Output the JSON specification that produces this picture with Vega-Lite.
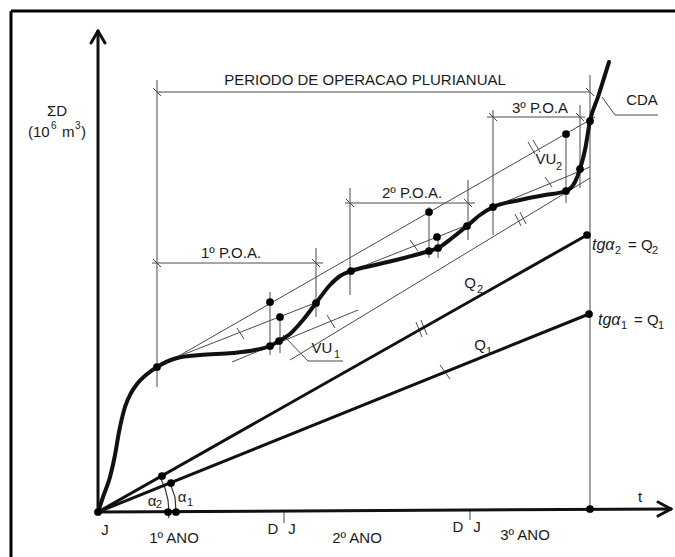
{
 "$schema": "https://vega.github.io/schema/vega-lite/v6.json",
 "width": 675, "height": 557, "autosize": "none", "padding": 0,
 "background": "white",
 "config": {"view": {"stroke": null}},
 "datasets": {
  "frame": [
   {"x": -87, "y": 501, "x2": 577, "y2": 501},
   {"x": -87, "y": 501, "x2": -87, "y2": -45}
  ],
  "thin": [
   {"x": 59, "y": 420, "x2": 492, "y2": 420},
   {"x": 59, "y": 432, "x2": 59, "y2": 125},
   {"x": 492, "y": 437, "x2": 492, "y2": 3},
   {"x": 54, "y": 249, "x2": 225, "y2": 249},
   {"x": 218, "y": 264, "x2": 218, "y2": 195},
   {"x": 247, "y": 309, "x2": 377, "y2": 309},
   {"x": 252, "y": 324, "x2": 252, "y2": 217},
   {"x": 370, "y": 332, "x2": 370, "y2": 272},
   {"x": 389, "y": 395, "x2": 487, "y2": 395},
   {"x": 395, "y": 402, "x2": 395, "y2": 277},
   {"x": 482, "y": 407, "x2": 482, "y2": 324},
   {"x": 55, "y": 424, "x2": 63, "y2": 416},
   {"x": 488, "y": 424, "x2": 496, "y2": 416},
   {"x": 55, "y": 253, "x2": 63, "y2": 245},
   {"x": 214, "y": 253, "x2": 222, "y2": 245},
   {"x": 248, "y": 313, "x2": 256, "y2": 305},
   {"x": 366, "y": 313, "x2": 374, "y2": 305},
   {"x": 391, "y": 399, "x2": 399, "y2": 391},
   {"x": 478, "y": 399, "x2": 486, "y2": 391},
   {"x": 79, "y": 155, "x2": 497, "y2": 395},
   {"x": 79, "y": 155, "x2": 222, "y2": 211},
   {"x": 134, "y": 150, "x2": 260, "y2": 202},
   {"x": 192, "y": 152, "x2": 492, "y2": 334},
   {"x": 253, "y": 241, "x2": 372, "y2": 288},
   {"x": 395, "y": 305, "x2": 492, "y2": 345},
   {"x": 172, "y": 220, "x2": 172, "y2": 157},
   {"x": 182, "y": 199, "x2": 182, "y2": 159},
   {"x": 331, "y": 305, "x2": 331, "y2": 254},
   {"x": 340, "y": 279, "x2": 340, "y2": 254},
   {"x": 468, "y": 380, "x2": 468, "y2": 309},
   {"x": 185, "y": 177, "x2": 210, "y2": 151},
   {"x": 210, "y": 151, "x2": 245, "y2": 151},
   {"x": 504, "y": 415, "x2": 517, "y2": 397},
   {"x": 517, "y": 397, "x2": 560, "y2": 397},
   {"x": 342, "y": 147, "x2": 352, "y2": 133},
   {"x": 139, "y": 184, "x2": 146, "y2": 173},
   {"x": 229, "y": 197, "x2": 237, "y2": 184},
   {"x": 312, "y": 272, "x2": 320, "y2": 261},
   {"x": 447, "y": 335, "x2": 454, "y2": 325},
   {"x": 318, "y": 190, "x2": 324, "y2": 175},
   {"x": 323, "y": 192, "x2": 329, "y2": 177},
   {"x": 430, "y": 370, "x2": 437, "y2": 358},
   {"x": 435, "y": 372, "x2": 442, "y2": 360},
   {"x": 417, "y": 298, "x2": 423, "y2": 286},
   {"x": 422, "y": 300, "x2": 428, "y2": 288},
   {"x": 186, "y": 0, "x2": 186, "y2": -11},
   {"x": 372, "y": 3, "x2": 372, "y2": -8}
  ],
  "thick": [
   {"x": 0, "y": 0, "x2": 0, "y2": 481},
   {"x": -7, "y": 469, "x2": 0, "y2": 481},
   {"x": 7, "y": 469, "x2": 0, "y2": 481},
   {"x": 0, "y": 0, "x2": 573, "y2": 3},
   {"x": 560, "y": 10, "x2": 573, "y2": 3},
   {"x": 560, "y": -4, "x2": 573, "y2": 3},
   {"x": 0, "y": 0, "x2": 489, "y2": 277},
   {"x": 0, "y": 0, "x2": 491, "y2": 198}
  ],
  "arcs": [
   {"arc": "a2", "k": 1, "x": 70.7, "y": -6},
   {"arc": "a2", "k": 2, "x": 71, "y": 0},
   {"arc": "a2", "k": 3, "x": 70, "y": 12},
   {"arc": "a2", "k": 4, "x": 67, "y": 24},
   {"arc": "a2", "k": 5, "x": 62, "y": 35},
   {"arc": "a1", "k": 1, "x": 78, "y": 0},
   {"arc": "a1", "k": 2, "x": 77, "y": 15},
   {"arc": "a1", "k": 3, "x": 72, "y": 29}
  ],
  "cda": [
   {"x": 0, "y": 0}, {"x": 5, "y": 15}, {"x": 12, "y": 35}, {"x": 17, "y": 57},
   {"x": 21, "y": 80}, {"x": 27, "y": 105}, {"x": 33, "y": 119}, {"x": 39, "y": 128},
   {"x": 48, "y": 137}, {"x": 59, "y": 145}, {"x": 79, "y": 154}, {"x": 102, "y": 157},
   {"x": 135, "y": 159}, {"x": 157, "y": 162}, {"x": 172, "y": 166}, {"x": 181, "y": 171},
   {"x": 192, "y": 178}, {"x": 205, "y": 192}, {"x": 218, "y": 209}, {"x": 232, "y": 227},
   {"x": 242, "y": 236}, {"x": 253, "y": 241}, {"x": 277, "y": 247}, {"x": 302, "y": 253},
   {"x": 331, "y": 261}, {"x": 340, "y": 264}, {"x": 354, "y": 274}, {"x": 369, "y": 286},
   {"x": 382, "y": 297}, {"x": 395, "y": 305}, {"x": 422, "y": 312}, {"x": 447, "y": 317},
   {"x": 468, "y": 321}, {"x": 477, "y": 330}, {"x": 482, "y": 343}, {"x": 487, "y": 362},
   {"x": 492, "y": 391}, {"x": 500, "y": 415}, {"x": 511, "y": 450}
  ],
  "dots": [
   {"x": 0, "y": 0}, {"x": 59, "y": 145}, {"x": 172, "y": 210}, {"x": 182, "y": 195},
   {"x": 172, "y": 166}, {"x": 181, "y": 171}, {"x": 218, "y": 209}, {"x": 253, "y": 241},
   {"x": 331, "y": 300}, {"x": 339, "y": 275}, {"x": 331, "y": 261}, {"x": 340, "y": 264},
   {"x": 369, "y": 286}, {"x": 395, "y": 305}, {"x": 468, "y": 378}, {"x": 482, "y": 343},
   {"x": 468, "y": 321}, {"x": 492, "y": 391}, {"x": 489, "y": 277}, {"x": 491, "y": 198},
   {"x": 492, "y": 3}, {"x": 64, "y": 36}, {"x": 73, "y": 29}, {"x": 70, "y": 0}, {"x": 78, "y": 0}
  ],
  "labels": [
   {"x": 267, "y": 432, "text": "PERIODO DE OPERACAO PLURIANUAL"},
   {"x": -41, "y": 401, "text": "ΣD"},
   {"x": 133, "y": 259, "text": "1º P.O.A."},
   {"x": 314, "y": 319, "text": "2º P.O.A."},
   {"x": 442, "y": 404, "text": "3º P.O.A"},
   {"x": 544, "y": 412, "text": "CDA"},
   {"x": 224, "y": 164, "text": "VU"},
   {"x": 448, "y": 353, "text": "VU"},
   {"x": 372, "y": 229, "text": "Q"},
   {"x": 382, "y": 167, "text": "Q"},
   {"x": 54, "y": 11, "text": "α"},
   {"x": 84, "y": 15, "text": "α"},
   {"x": 7, "y": -18, "text": "J"},
   {"x": 76, "y": -26, "text": "1º ANO"},
   {"x": 175, "y": -17, "text": "D"},
   {"x": 194, "y": -17, "text": "J"},
   {"x": 259, "y": -26, "text": "2º ANO"},
   {"x": 360, "y": -15, "text": "D"},
   {"x": 379, "y": -15, "text": "J"},
   {"x": 427, "y": -23, "text": "3º ANO"},
   {"x": 542, "y": 15, "text": "t"}
  ],
  "unit": [
   {"x": -70, "y": 380, "text": "(10"},
   {"x": -36, "y": 380, "text": "m"},
   {"x": -17, "y": 380, "text": ")"}
  ],
  "sups": [
   {"x": -47, "y": 386, "text": "6"},
   {"x": -23, "y": 386, "text": "3"}
  ],
  "subs": [
   {"x": 239, "y": 157, "text": "1"},
   {"x": 461, "y": 345, "text": "2"},
   {"x": 382, "y": 222, "text": "2"},
   {"x": 391, "y": 160, "text": "1"},
   {"x": 61, "y": 7, "text": "2"},
   {"x": 92, "y": 9, "text": "1"},
   {"x": 520, "y": 261, "text": "2"},
   {"x": 557, "y": 261, "text": "2"},
   {"x": 526, "y": 186, "text": "1"},
   {"x": 563, "y": 186, "text": "1"}
  ],
  "tg": [
   {"x": 494, "y": 267, "text": "tgα"},
   {"x": 500, "y": 192, "text": "tgα"}
  ],
  "eq": [
   {"x": 530, "y": 267, "text": "= Q"},
   {"x": 536, "y": 192, "text": "= Q"}
  ]
 },
 "encoding": {
  "x": {"field": "x", "type": "quantitative", "scale": {"domain": [-98, 577], "nice": false, "zero": false}, "axis": null},
  "y": {"field": "y", "type": "quantitative", "scale": {"domain": [-45, 512], "nice": false, "zero": false}, "axis": null}
 },
 "layer": [
  {"data": {"name": "frame"}, "mark": {"type": "rule", "strokeWidth": 3, "color": "#000"},
   "encoding": {"x2": {"field": "x2"}, "y2": {"field": "y2"}}},
  {"data": {"name": "thin"}, "mark": {"type": "rule", "strokeWidth": 1, "color": "#4a4a4a"},
   "encoding": {"x2": {"field": "x2"}, "y2": {"field": "y2"}}},
  {"data": {"name": "arcs"}, "mark": {"type": "line", "strokeWidth": 1.2, "color": "#333", "interpolate": "linear"},
   "encoding": {"detail": {"field": "arc"}, "order": {"field": "k"}}},
  {"data": {"name": "thick"}, "mark": {"type": "rule", "strokeWidth": 3, "color": "#111", "strokeCap": "round"},
   "encoding": {"x2": {"field": "x2"}, "y2": {"field": "y2"}}},
  {"data": {"name": "cda"}, "mark": {"type": "line", "strokeWidth": 4, "color": "#111", "interpolate": "monotone", "strokeCap": "round"},
   "encoding": {}},
  {"data": {"name": "dots"}, "mark": {"type": "point", "filled": true, "size": 60, "color": "#000", "opacity": 1}},
  {"data": {"name": "labels"}, "mark": {"type": "text", "font": "Liberation Sans", "fontSize": 15, "color": "#1a1a1a", "align": "center", "baseline": "middle"},
   "encoding": {"text": {"field": "text"}}},
  {"data": {"name": "unit"}, "mark": {"type": "text", "font": "Liberation Sans", "fontSize": 15, "color": "#1a1a1a", "align": "left", "baseline": "middle"},
   "encoding": {"text": {"field": "text"}}},
  {"data": {"name": "sups"}, "mark": {"type": "text", "font": "Liberation Sans", "fontSize": 10, "color": "#1a1a1a", "align": "left", "baseline": "middle"},
   "encoding": {"text": {"field": "text"}}},
  {"data": {"name": "subs"}, "mark": {"type": "text", "font": "Liberation Sans", "fontSize": 11, "color": "#1a1a1a", "align": "center", "baseline": "middle"},
   "encoding": {"text": {"field": "text"}}},
  {"data": {"name": "tg"}, "mark": {"type": "text", "font": "Liberation Sans", "fontSize": 16, "fontStyle": "italic", "color": "#1a1a1a", "align": "left", "baseline": "middle"},
   "encoding": {"text": {"field": "text"}}},
  {"data": {"name": "eq"}, "mark": {"type": "text", "font": "Liberation Sans", "fontSize": 15, "color": "#1a1a1a", "align": "left", "baseline": "middle"},
   "encoding": {"text": {"field": "text"}}}
 ]
}
